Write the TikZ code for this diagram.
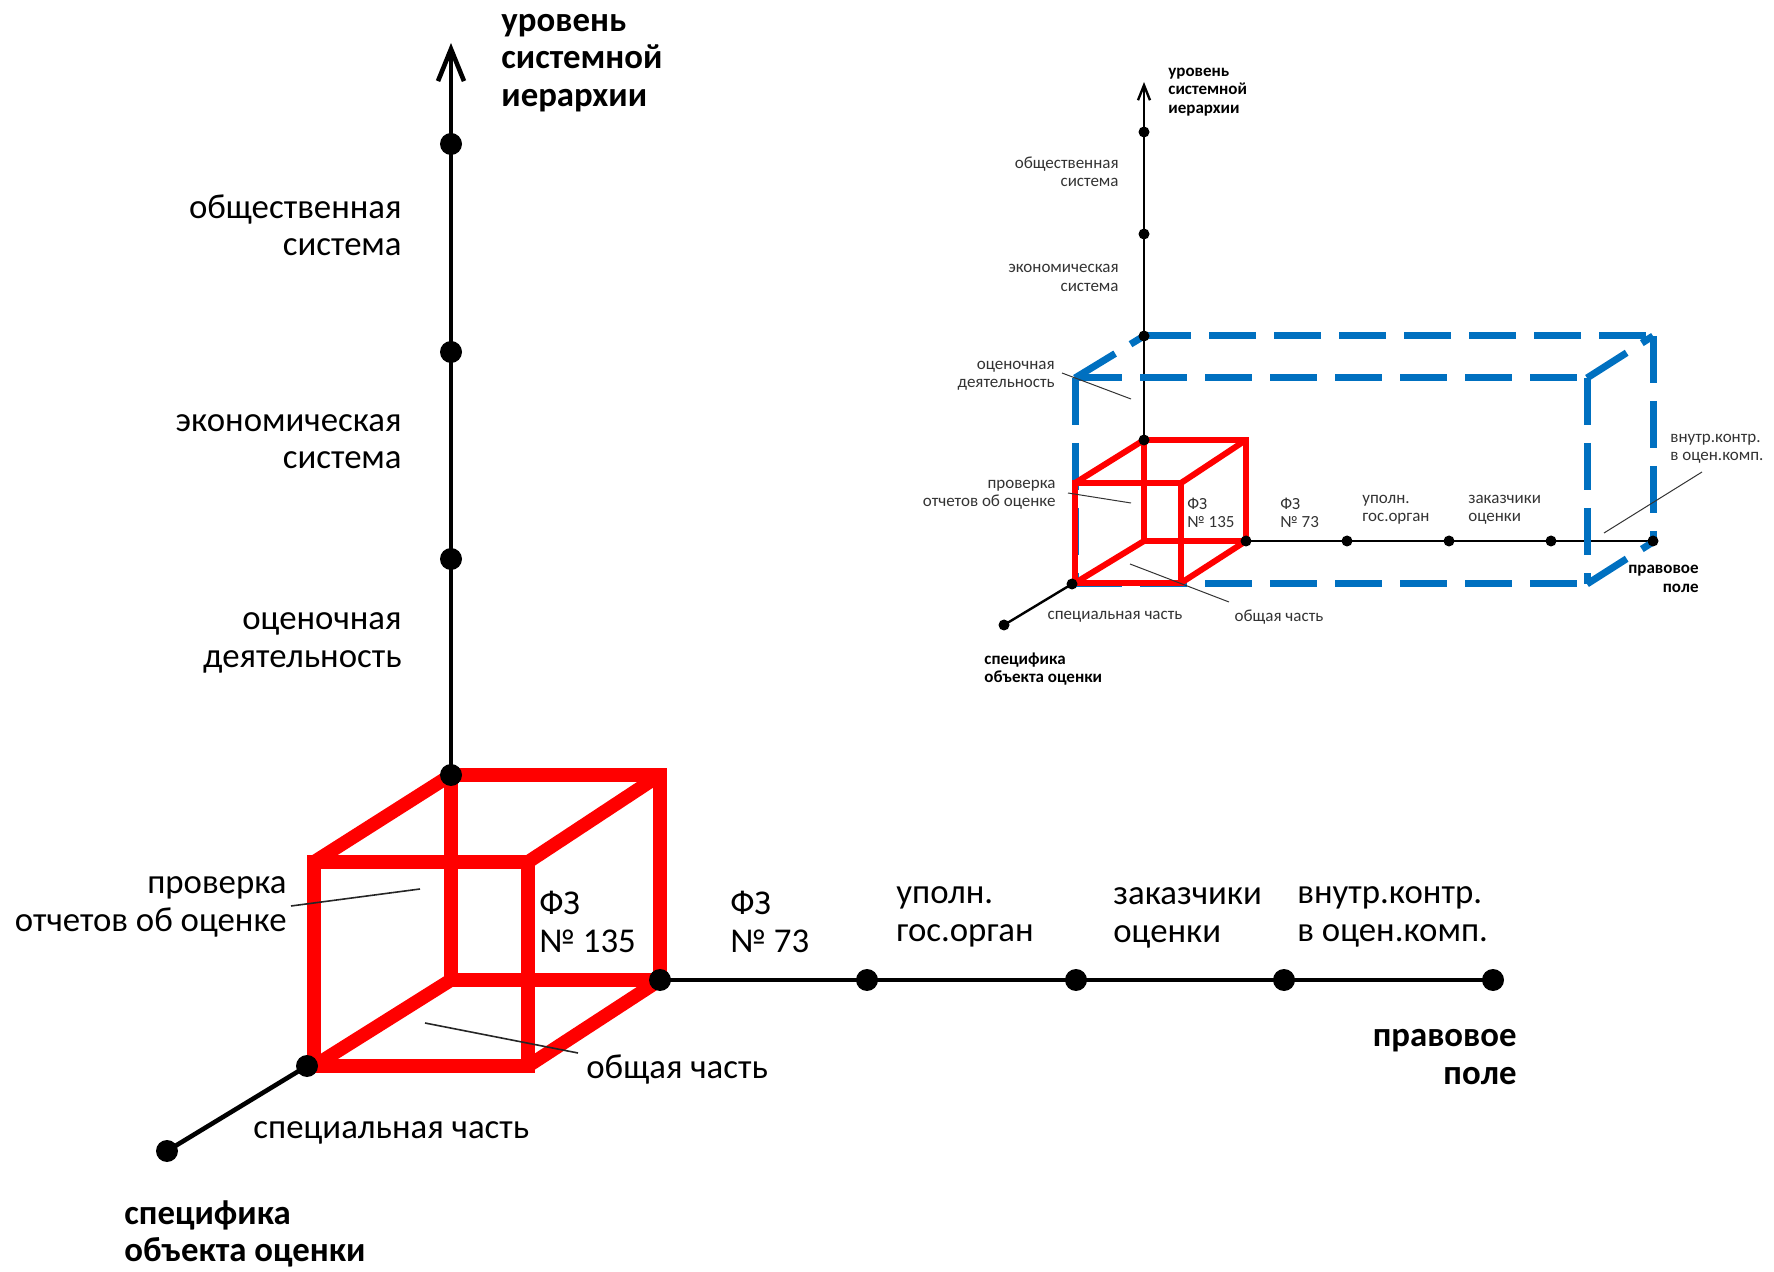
\documentclass[tikz,border=0pt]{standalone}
\usepackage{fontspec}
\setmainfont{Carlito}
\usetikzlibrary{arrows.meta}
\definecolor{cubered}{RGB}{255,0,0}
\definecolor{boxblue}{RGB}{0,112,192}
\begin{document}
\begin{tikzpicture}[x=0.5pt,y=-0.5pt,
  maxis/.style={line width=2.3pt,black},
  iaxis/.style={line width=1.2pt,black},
  mcube/.style={line width=6.8pt,cubered,line join=miter},
  icube/.style={line width=3pt,cubered,line join=miter},
  iblue/.style={line width=3.5pt,boxblue,dash pattern=on 23.5pt off 9pt},
  mdot/.style={circle,fill=black,inner sep=0pt,minimum size=11pt},
  idot/.style={circle,fill=black,inner sep=0pt,minimum size=5.5pt},
  mlead/.style={line width=0.8pt,black!85},
  ilead/.style={line width=0.5pt,black!80},
  mlab/.style={font=\fontsize{17.4}{18.65}\selectfont,inner sep=0pt,text=black},
  mbold/.style={font=\fontsize{17.4}{18.65}\selectfont\bfseries,inner sep=0pt,text=black},
  ilab/.style={font=\fontsize{8.5}{9.25}\selectfont,inner sep=0pt,text=black!80},
  ibold/.style={font=\fontsize{8.5}{9.25}\selectfont\bfseries,inner sep=0pt,text=black},
]
\useasboundingbox (0,0) rectangle (1774,1272);

% ================= MAIN DIAGRAM =================
\coordinate (mtip) at (451,43);
\coordinate (mz1) at (451,775);
\coordinate (mz2) at (451,559);
\coordinate (mz3) at (451,352);
\coordinate (mz4) at (451,144);
\coordinate (my1) at (660,980);
\coordinate (my2) at (867,980);
\coordinate (my3) at (1076,980);
\coordinate (my4) at (1284,980);
\coordinate (my5) at (1493,980);
\coordinate (mx1) at (307,1066);
\coordinate (mx2) at (167,1151);
\coordinate (mbtl) at (451,775);
\coordinate (mbtr) at (660,775);
\coordinate (mbbr) at (660,980);
\coordinate (mbbl) at (451,980);
\coordinate (mftl) at (314,862);
\coordinate (mftr) at (528,862);
\coordinate (mfbr) at (528,1066);
\coordinate (mfbl) at (314,1066);

\draw[maxis,-{Straight Barb[length=16pt,width=13pt]}] (mz1) -- (mtip);
\draw[maxis] (my1) -- (my5);
\draw[maxis] (mx1) -- (mx2);

\draw[mcube] (mbtl) -- (mbtr) -- (mbbr) -- (mbbl) -- cycle;
\draw[mcube] (mftl) -- (mftr) -- (mfbr) -- (mfbl) -- cycle;
\draw[mcube,line cap=round] (mftl) -- (mbtl);
\draw[mcube,line cap=round] (mftr) -- (mbtr);
\draw[mcube,line cap=round] (mfbr) -- (mbbr);
\draw[mcube,line cap=round] (mfbl) -- (mbbl);

\foreach \p in {mz1,mz2,mz3,mz4,my1,my2,my3,my4,my5,mx1,mx2}
  \node[mdot] (d\p) at (\p) {};

\coordinate (ml1a) at (291,906); \coordinate (ml1b) at (420,889);
\coordinate (ml2a) at (425,1023); \coordinate (ml2b) at (578,1053);
\draw[mlead] (ml1a) -- (ml1b);
\draw[mlead] (ml2a) -- (ml2b);

\node[mbold,anchor=west,align=left] (mlz) at (501,63) {уровень\\системной\\иерархии};
\node[mlab,anchor=east,align=right] (mla) at (402,225) {общественная\\система};
\node[mlab,anchor=east,align=right] (mlb) at (402,442) {экономическая\\система};
\node[mlab,anchor=east,align=right] (mlc) at (402,643) {оценочная\\деятельность};
\node[mlab,anchor=east,align=right] (mld) at (287,907) {проверка\\отчетов об оценке};
\node[mlab,anchor=west,align=left] (mle) at (539,922) {ФЗ\\№ 135};
\node[mlab,anchor=west,align=left] (mlf) at (730,922) {ФЗ\\№ 73};
\node[mlab,anchor=west,align=left] (mlg) at (896,917) {уполн.\\гос.орган};
\node[mlab,anchor=west,align=left] (mlh) at (1113,918) {заказчики\\оценки};
\node[mlab,anchor=west,align=left] (mli) at (1297,917) {внутр.контр.\\в оцен.комп.};
\node[mbold,anchor=east,align=right] (mlj) at (1517,1057) {правовое\\поле};
\node[mlab,anchor=west] (mlk) at (586,1070) {общая часть};
\node[mlab,anchor=west] (mll) at (253,1133) {специальная часть};
\node[mbold,anchor=west,align=left] (mlm) at (124,1234) {специфика\\объекта оценки};

% ================= INSET =================
\coordinate (itip) at (1144,82);
\coordinate (iz1) at (1144,440);
\coordinate (iz2) at (1144,336);
\coordinate (iz3) at (1144,234);
\coordinate (iz4) at (1144,132);
\coordinate (iy1) at (1246,541);
\coordinate (iy2) at (1347,541);
\coordinate (iy3) at (1449,541);
\coordinate (iy4) at (1551,541);
\coordinate (iy5) at (1653,541);
\coordinate (ix1) at (1072,584);
\coordinate (ix2) at (1004,625);
\coordinate (ibtl) at (1144,440);
\coordinate (ibtr) at (1246,440);
\coordinate (ibbr) at (1246,541);
\coordinate (ibbl) at (1144,541);
\coordinate (iftl) at (1075,483);
\coordinate (iftr) at (1181,483);
\coordinate (ifbr) at (1181,583);
\coordinate (ifbl) at (1075,583);
\coordinate (qftl) at (1075,378);
\coordinate (qftr) at (1587,378);
\coordinate (qfbr) at (1587,584);
\coordinate (qfbl) at (1075,584);
\coordinate (qbtl) at (1144,336);
\coordinate (qbtr) at (1653,336);
\coordinate (qbbr) at (1653,542);

\draw[iaxis,-{Straight Barb[length=7.5pt,width=6pt]}] (iz1) -- (itip);
\draw[iaxis] (iy1) -- (iy5);
\draw[iaxis] (ix1) -- (ix2);

\draw[iblue] (qftl) -- (qftr);
\draw[iblue] (qftl) -- (qfbl);
\draw[iblue] (qftr) -- (qfbr);
\draw[iblue] (qfbl) -- (qfbr);
\draw[iblue] (qbtl) -- (qbtr);
\draw[iblue] (qbtr) -- (qbbr);
\draw[iblue] (qftl) -- (qbtl);
\draw[iblue] (qftr) -- (qbtr);
\draw[iblue] (qfbr) -- (qbbr);

\draw[icube] (ibtl) -- (ibtr) -- (ibbr) -- (ibbl) -- cycle;
\draw[icube] (iftl) -- (iftr) -- (ifbr) -- (ifbl) -- cycle;
\draw[icube,line cap=round] (iftl) -- (ibtl);
\draw[icube,line cap=round] (iftr) -- (ibtr);
\draw[icube,line cap=round] (ifbr) -- (ibbr);
\draw[icube,line cap=round] (ifbl) -- (ibbl);

\foreach \p in {iz1,iz2,iz3,iz4,iy1,iy2,iy3,iy4,iy5,ix1,ix2}
  \node[idot] (d\p) at (\p) {};

\coordinate (il1a) at (1062,373); \coordinate (il1b) at (1131,399);
\coordinate (il2a) at (1068,493); \coordinate (il2b) at (1131,503);
\coordinate (il3a) at (1702,472); \coordinate (il3b) at (1604,533);
\coordinate (il4a) at (1130,564); \coordinate (il4b) at (1229,602);
\draw[ilead] (il1a) -- (il1b);
\draw[ilead] (il2a) -- (il2b);
\draw[ilead] (il3a) -- (il3b);
\draw[ilead] (il4a) -- (il4b);

\node[ibold,anchor=west,align=left] (ilz) at (1168,92) {уровень\\системной\\иерархии};
\node[ilab,anchor=east,align=right] (ila) at (1119,172) {общественная\\система};
\node[ilab,anchor=east,align=right] (ilb) at (1119,278) {экономическая\\система};
\node[ilab,anchor=east,align=right] (ilc) at (1055,376) {оценочная\\деятельность};
\node[ilab,anchor=east,align=right] (ild) at (1056,495) {проверка\\отчетов об оценке};
\node[ilab,anchor=west,align=left] (ile) at (1187,513) {ФЗ\\№ 135};
\node[ilab,anchor=west,align=left] (ilf) at (1280,513) {ФЗ\\№ 73};
\node[ilab,anchor=west,align=left] (ilg) at (1362,510) {уполн.\\гос.орган};
\node[ilab,anchor=west,align=left] (ilh) at (1468,510) {заказчики\\оценки};
\node[ilab,anchor=west,align=left] (ili) at (1670,449) {внутр.контр.\\в оцен.комп.};
\node[ibold,anchor=east,align=right] (ilj) at (1699,579) {правовое\\поле};
\node[ilab] (ilk) at (1279,617) {общая часть};
\node[ilab] (ill) at (1115,617) {специальная часть};
\node[ibold,anchor=west,align=left] (ilm) at (984,669) {специфика\\объекта оценки};
\end{tikzpicture}
\end{document}
